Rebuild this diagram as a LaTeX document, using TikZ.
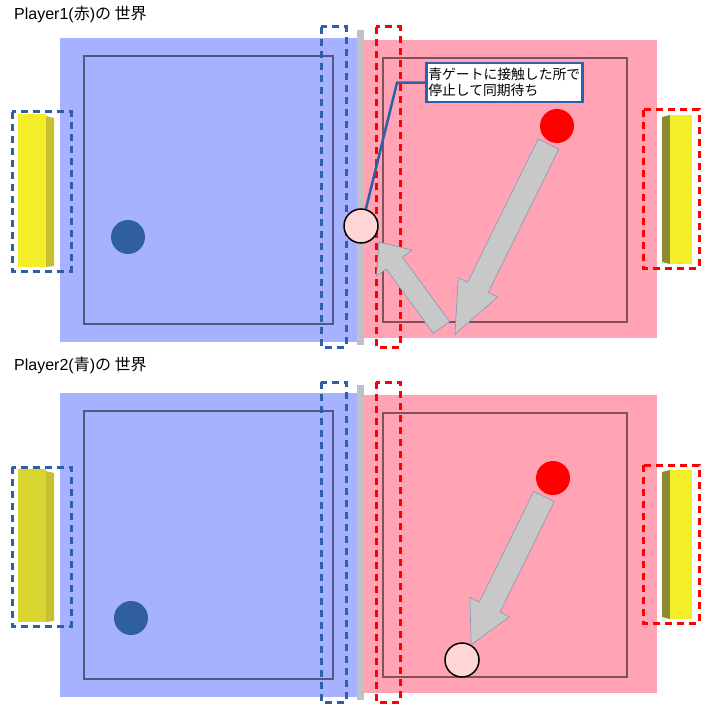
\documentclass[tikz,border=0pt]{standalone}
\usepackage{fontspec}
\setmainfont{Liberation Sans}
\newfontfamily\jp{Noto Sans CJK JP}
\usepackage{tikz}
\usetikzlibrary{calc}
\definecolor{fieldblue}{RGB}{166, 178, 255}
\definecolor{fieldpink}{RGB}{255, 163, 181}
\definecolor{gateblue}{RGB}{46, 95, 168}
\definecolor{gatered}{RGB}{255, 0, 0}
\definecolor{bargray}{RGB}{192, 192, 200}
\definecolor{ballblue}{RGB}{47, 95, 160}
\definecolor{ballpale}{RGB}{255, 213, 213}
\definecolor{arrowgray}{RGB}{200, 200, 200}
\definecolor{arrowedge}{RGB}{128, 152, 184}
\definecolor{yelfront}{RGB}{244, 238, 42}
\definecolor{yeldull}{RGB}{216, 212, 48}
\definecolor{yelside}{RGB}{200, 192, 48}
\definecolor{yelolive}{RGB}{138, 138, 48}

% block arrow: tail, tip, shaft half width, head half width, head length
\newcommand\blockarrow[5]{%
  \coordinate (ba-base) at ($(#2)!#5!(#1)$);
  \path[arrowbody] ($(#1)!#3!90:(#2)$) -- ($(ba-base)!#3!90:(#2)$)
    -- ($(ba-base)!#4!90:(#2)$) -- (#2) -- ($(ba-base)!#4!-90:(#2)$)
    -- ($(ba-base)!#3!-90:(#2)$) -- ($(#1)!#3!-90:(#2)$) -- cycle;}

\begin{document}
\begin{tikzpicture}[
    x=1pt, y=-1pt,
    title/.style={anchor=base west, inner sep=0pt, font=\fontsize{16}{19}\selectfont},
    court/.style={draw=black, draw opacity=0.5, line width=2pt},
    gateB/.style={draw=gateblue, line width=3pt, dash pattern=on 7pt off 5pt},
    gateR/.style={draw=gatered, line width=3pt, dash pattern=on 7pt off 5pt},
    ball/.style={circle, minimum size=34pt, inner sep=0pt},
    arrowbody/.style={fill=arrowgray, draw=arrowedge, line width=0.6pt},
    callout/.style={draw=gateblue, line width=2.5pt, fill=white, anchor=north west,
        minimum width=156pt, minimum height=39pt, inner sep=1pt, align=left,
        font=\jp\fontsize{13.8}{16}\selectfont},
    leader/.style={draw=gateblue, line width=2.5pt},
]
\useasboundingbox (0,0) rectangle (705,711);

% --- Both worlds share the same field and gates ---
\foreach \dy/\yl in {0/yelfront, 355/yeldull}{
  \begin{scope}[shift={(0,\dy)}]
    \fill[fieldblue] (60,38) rectangle (357,342);
    \fill[fieldpink] (364,40) rectangle (657,338);
    \fill[bargray] (357,30) rectangle (364,345);
    \draw[court] (84,56) rectangle (333,324);
    \draw[court] (383,58) rectangle (627,322);
    % left goal (blue side)
    \fill[\yl] (18,114) rectangle (46,267);
    \fill[yelside] (46,116) -- (54,118) -- (54,266) -- (46,267) -- cycle;
    % right goal (red side)
    \fill[yelolive] (662,117) -- (670,115) -- (670,264) -- (662,262) -- cycle;
    \fill[yelfront] (670,115) rectangle (692,264);
    % gates
    \draw[gateB] (12,112) rectangle (71,271);
    \draw[gateB] (321,27) rectangle (346,347);
    \draw[gateR] (376,27) rectangle (400,347);
    \draw[gateR] (643,110) rectangle (699,268);
  \end{scope}
}

% --- Titles ---
\node[title] (t1) at (14,20) {Player1({\jp 赤}){\jp の 世界}};
\node[title] (t2) at (14,370) {Player2({\jp 青}){\jp の 世界}};

% --- Player1 world ---
\node[ball, fill=ballblue] (blue1) at (128,237) {};
\node[ball, fill=gatered] (red1) at (557,126) {};
\node[ball, fill=ballpale, draw=black, line width=1.5pt] (pale1) at (361,226) {};
\coordinate (tail1) at ($(red1)+(-8.5,18)$);
\coordinate (stop1) at (455,334);
\coordinate (tail2) at (441.5,327.5);
\coordinate (stop2) at ($(pale1)+(18,16)$);
\blockarrow{tail1}{stop1}{11.5pt}{22pt}{52pt}
\blockarrow{tail2}{stop2}{10pt}{22pt}{26pt}

\node[callout] (note) at (425,62) {青ゲートに接触した所で\\停止して同期待ち};
\draw[leader] (note.west) -- ++(-28,0) coordinate (kink) -- (pale1.74);

% --- Player2 world ---
\node[ball, fill=ballblue] (blue2) at (131,618) {};
\node[ball, fill=gatered] (red2) at (553,478) {};
\node[ball, fill=ballpale, draw=black, line width=1.5pt] (pale2) at (462,660) {};
\coordinate (tail3) at ($(red2)+(-9,18.5)$);
\blockarrow{tail3}{pale2.59}{11.5pt}{22pt}{42pt}

\end{tikzpicture}
\end{document}
